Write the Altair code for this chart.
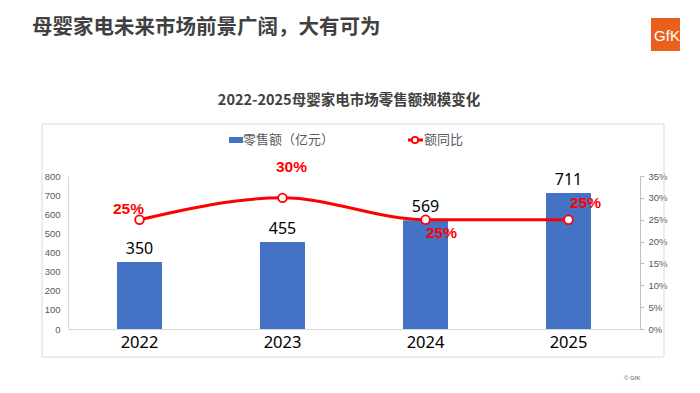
import altair as alt
import pandas as pd

years = ["2022", "2023", "2024", "2025"]
sales = [350, 455, 569, 711]
growth = [0.25, 0.30, 0.25, 0.25]
growth_labels = ["25%", "30%", "25%", "25%"]

df = pd.DataFrame({"year": years, "sales": sales, "growth": growth, "glabel": growth_labels})

page_title = "母婴家电未来市场前景广阔，大有可为"
chart_title = "2022-2025母婴家电市场零售额规模变化"
legend_bar = "零售额（亿元）"
legend_line = "额同比"

CJK = "Noto Sans CJK SC"
LAT = "Liberation Sans"
BLUE = "#4472C4"
RED = "#FF0000"

x = alt.X("year:N", sort=years, title=None,
          scale=alt.Scale(paddingInner=0.0, paddingOuter=0.0),
          axis=alt.Axis(labelAngle=0, labelFontSize=16.5, labelColor="#000000", labelFont="Noto Sans",
                        ticks=False, domainColor="#D9D9D9", labelPadding=5))

y_left = alt.Y("sales:Q", title=None,
               scale=alt.Scale(domain=[0, 800]),
               axis=alt.Axis(values=list(range(0, 801, 100)), grid=False, ticks=False,
                             labelFontSize=9.5, labelColor="#595959", labelFont=LAT,
                             domainColor="#D9D9D9", labelPadding=8))

y_right = alt.Y("growth:Q", title=None,
                scale=alt.Scale(domain=[0, 0.35]),
                axis=alt.Axis(orient="right", format=".0%", values=[i / 100 for i in range(0, 36, 5)],
                              grid=False, tickSize=4, tickColor="#BFBFBF", domainColor="#BFBFBF",
                              labelFontSize=9.5, labelColor="#595959", labelFont=LAT, labelPadding=4))

base = alt.Chart(df)

bars = base.mark_bar(size=45, color=BLUE).encode(x=x, y=y_left)
bar_text = base.mark_text(baseline="bottom", dy=-5, fontSize=16, font="Noto Sans", color="#000000").encode(
    x=x, y=y_left, text="sales:Q")
left = alt.layer(bars, bar_text)

line = base.mark_line(color=RED, strokeWidth=3, interpolate="monotone").encode(x=x, y=y_right)
pts = base.mark_point(shape="circle", size=75, filled=True, fill="white", stroke=RED, strokeWidth=1.8,
                      opacity=1).encode(x=x, y=y_right)

offsets = {"2022": (-11, -11), "2023": (9, -31), "2024": (16, 13), "2025": (17, -17)}
glayers = []
for yr in years:
    dx, dy = offsets[yr]
    glayers.append(
        base.transform_filter(alt.datum.year == yr).mark_text(
            fontSize=15.5, fontWeight="bold", color=RED, font=LAT, dx=dx, dy=dy, baseline="middle"
        ).encode(x=x, y=y_right, text="glabel:N")
    )
right = alt.layer(line, pts, *glayers)

one = pd.DataFrame({"k": [0]})
deco = alt.Chart(one)

frame = deco.mark_rect(fill=None, stroke="#D9D9D9", strokeWidth=1).encode(
    x=alt.value(-26), x2=alt.value(596), y=alt.value(-52), y2=alt.value(181))
title_pg = deco.mark_text(align="left", baseline="middle", fontSize=20.5, fontWeight="bold",
                          font=CJK, color="#404040").encode(
    x=alt.value(-36), y=alt.value(-148), text=alt.value(page_title))
title_ch = deco.mark_text(align="center", baseline="middle", fontSize=14.5, fontWeight="bold",
                          font=CJK, color="#404040").encode(
    x=alt.value(281), y=alt.value(-75), text=alt.value(chart_title))
logo_box = deco.mark_rect(fill="#E8601C").encode(
    x=alt.value(583), x2=alt.value(615), y=alt.value(-158), y2=alt.value(-125))
logo_txt = deco.mark_text(align="center", baseline="middle", fontSize=15, font=LAT,
                          color="white").encode(x=alt.value(599), y=alt.value(-140), text=alt.value("GfK"))
copy_txt = deco.mark_text(align="left", baseline="middle", fontSize=6, font=LAT,
                          color="#595959").encode(x=alt.value(556), y=alt.value(202), text=alt.value("© GfK"))
leg_sq = deco.mark_rect(fill=BLUE).encode(
    x=alt.value(161), x2=alt.value(175), y=alt.value(-39), y2=alt.value(-33))
leg_t1 = deco.mark_text(align="left", baseline="middle", fontSize=13, font=CJK, color="#595959").encode(
    x=alt.value(175), y=alt.value(-36), text=alt.value(legend_bar))
leg_ln = deco.mark_rule(color=RED, strokeWidth=3).encode(
    x=alt.value(340), x2=alt.value(355), y=alt.value(-36))
leg_pt = deco.mark_point(shape="circle", size=40, filled=True, fill="white", stroke=RED,
                         strokeWidth=1.8, opacity=1).encode(x=alt.value(347), y=alt.value(-36))
leg_t2 = deco.mark_text(align="left", baseline="middle", fontSize=13, font=CJK, color="#595959").encode(
    x=alt.value(356), y=alt.value(-36), text=alt.value(legend_line))

decor = alt.layer(frame, title_pg, title_ch, logo_box, logo_txt, copy_txt, leg_sq, leg_t1, leg_ln, leg_pt, leg_t2)

chart = alt.layer(decor, left, right).resolve_scale(y="independent").properties(
    width=572, height=153,
    padding={"left": 60, "top": 168, "right": 40, "bottom": 64},
    autosize=alt.AutoSizeParams(type="none"),
    background="white",
).configure_view(stroke=None)

chart.save("out.html", embed_options={"renderer": "svg", "actions": False})
